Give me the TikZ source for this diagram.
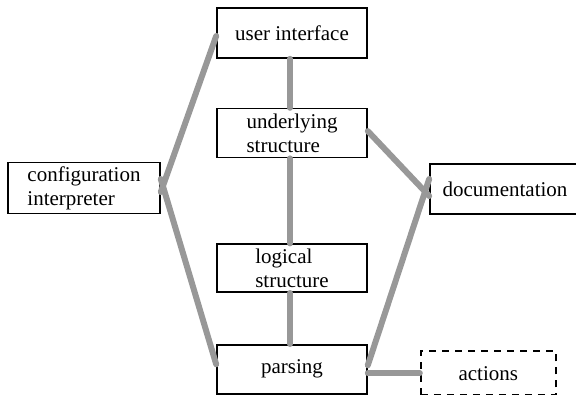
\documentclass[tikz,border=0pt]{standalone}
\usepackage{fontspec}
\setmainfont{Liberation Serif}
\usepackage{tikz}
\usetikzlibrary{positioning}
\definecolor{linkgray}{RGB}{152,152,152}

\begin{document}
\begin{tikzpicture}[
    x=1pt, y=-1pt,
    node distance=50pt,
    block/.style={rectangle, draw=black, line width=1.6pt, fill=white, minimum width=150pt, minimum height=50pt, inner sep=2pt, align=left, font=\fontsize{21}{24}\selectfont},
    optional/.style={block, line width=2pt, dash pattern=on 7pt off 6pt, minimum width=135pt, minimum height=44pt},
    link/.style={draw=linkgray, line width=6pt, line cap=round}
]
\useasboundingbox (0,0) rectangle (576,394);

\node[block] (ui) at (292,33) {user interface};
\node[block, below=49pt of ui, minimum height=49pt] (under) {underlying\\structure};
\node[block, below=85pt of under, minimum height=48pt] (logical) {logical\\structure};
\node[block, below=51pt of logical, minimum height=49pt] (parsing) {parsing};
\node[block, minimum width=152pt, minimum height=51pt] (config) at (84,188) {configuration\\interpreter};
\node[block] (doc) at (505,189) {documentation};
\node[optional, right=52pt of parsing, yshift=-4pt] (actions) {actions};

\draw[link] ([yshift=-4pt]config.east) -- ([yshift=-3pt]ui.west);
\draw[link] ([yshift=9pt]config.east) -- ([yshift=5pt]parsing.west);
\draw[link] ([xshift=-2pt]ui.south) -- ([xshift=-2pt]under.north);
\draw[link] ([xshift=-2pt]under.south) -- ([xshift=-2pt]logical.north);
\draw[link] ([xshift=-2pt]logical.south) -- ([xshift=-2pt]parsing.north);
\draw[link] ([yshift=2pt]under.east) -- ([yshift=-7pt]doc.west);
\draw[link] ([yshift=10pt]doc.west) -- ([yshift=4pt]parsing.east);
\draw[link] (actions.west -| parsing.east) -- (actions.west);

\end{tikzpicture}
\end{document}
